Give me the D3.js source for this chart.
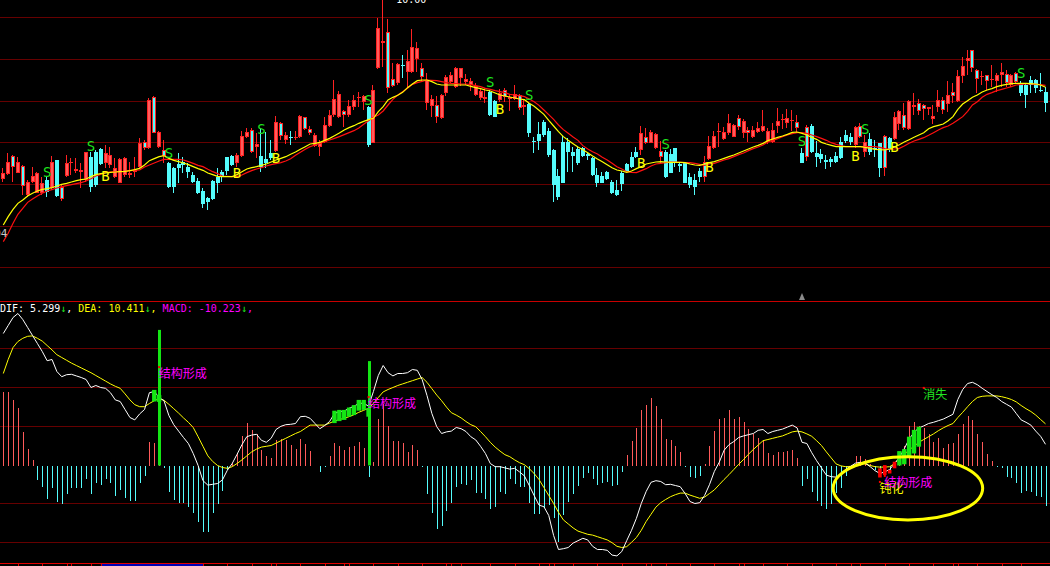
<!DOCTYPE html>
<html><head><meta charset="utf-8">
<script src="https://cdn.jsdelivr.net/npm/d3@7"></script>
<style>html,body{margin:0;padding:0;background:#000;overflow:hidden}svg{display:block}</style>
</head><body><svg id="c" width="1050" height="566"></svg>
<script>
// ---------- price data (one entry per trading day) ----------
const openP = [4.62,4.78,5.00,4.82,4.42,4.15,4.55,4.20,4.22,4.60,
4.35,5.20,4.02,4.72,5.10,4.88,4.85,4.60,5.30,5.45,
5.52,5.10,5.05,4.70,4.52,4.75,4.75,4.85,5.00,5.55,
5.55,6.02,5.60,5.32,5.10,4.95,5.07,5.15,4.98,4.75,
4.57,4.28,4.05,4.58,4.70,4.85,5.28,5.32,5.10,5.32,
5.90,5.45,5.60,5.32,5.22,5.40,5.48,5.92,5.80,5.88,
5.85,5.88,6.12,6.00,5.62,5.60,5.75,6.22,6.55,6.50,
6.55,6.55,6.80,7.05,6.95,6.78,5.72,7.95,8.72,7.35,
7.42,7.50,8.05,7.85,7.85,8.23,7.68,6.90,6.82,6.48,
6.45,7.20,7.55,7.38,7.65,7.55,7.45,7.15,7.05,7.03,
7.25,6.97,7.00,7.10,7.02,7.03,6.75,6.78,6.88,5.77,
5.98,6.35,6.08,5.50,4.72,5.75,5.75,5.45,5.52,5.55,
5.38,5.25,4.75,4.72,4.85,4.55,4.30,4.82,5.08,5.28,
5.45,5.50,5.72,5.72,5.55,5.30,5.45,5.38,5.55,5.07,
5.10,4.70,4.60,4.88,4.70,5.22,5.55,6.05,5.82,6.00,
5.90,6.20,6.02,6.02,5.90,6.05,6.08,5.75,5.75,6.23,
6.40,6.30,6.38,6.17,5.42,5.30,6.22,5.40,5.38,5.20,
5.23,5.32,5.75,5.95,5.88,5.65,5.88,5.45,5.82,5.57,
5.70,4.95,5.85,5.82,6.28,6.15,6.13,6.80,6.68,6.72,
6.72,6.43,6.78,6.70,6.88,7.13,6.98,7.72,8.18,7.95,
7.63,7.70,7.58,7.59,7.58,7.75,7.50,7.45,7.55,7.52,
7.45,7.60,7.60,7.30,7.25];
const highP = [4.95,5.40,5.35,5.30,5.05,4.60,5.00,4.85,4.70,4.70,
5.32,5.20,4.45,5.35,5.25,5.25,5.10,5.45,5.45,5.50,
5.55,5.65,5.60,5.25,5.25,5.30,5.15,5.30,5.85,5.80,
7.05,7.12,6.07,5.80,5.15,5.00,5.40,5.30,5.10,4.85,
4.67,4.35,4.10,4.60,4.95,4.90,5.30,5.35,5.40,6.07,
6.15,6.15,6.00,6.15,6.05,5.80,6.52,6.35,6.05,6.07,
6.07,6.55,6.50,6.22,6.00,5.80,6.48,6.70,7.60,7.27,
6.70,7.00,7.15,7.25,7.15,6.82,7.45,9.45,10.00,9.43,
8.10,8.10,8.35,8.50,9.12,8.75,8.10,7.80,7.15,7.12,
7.17,7.75,7.85,8.00,7.97,7.78,7.65,7.50,7.32,7.35,
7.30,7.00,7.32,7.35,7.17,7.45,7.18,7.00,6.92,5.90,
6.35,6.40,6.15,5.52,4.92,5.92,5.85,5.60,5.60,5.60,
5.40,5.30,4.95,4.85,4.88,4.60,4.60,4.88,5.12,5.45,
5.60,6.22,6.15,6.10,6.00,5.78,5.50,5.52,5.57,5.15,
5.12,4.80,4.78,4.95,5.32,5.92,6.07,6.30,6.20,6.58,
6.28,6.55,6.42,6.20,6.22,6.35,6.70,6.15,6.30,6.75,
6.58,6.72,6.70,6.55,5.55,6.25,6.28,5.78,5.52,5.35,
5.30,5.45,5.88,6.10,6.00,6.22,6.32,5.95,6.00,5.80,
5.72,5.95,5.88,6.65,6.70,6.90,7.00,7.20,7.02,6.88,
6.80,6.85,7.30,7.10,7.57,7.52,7.90,8.28,8.50,8.50,
7.92,7.87,7.75,8.05,7.80,8.10,7.90,7.78,7.85,7.57,
7.48,7.72,7.62,7.82,7.38];
const lowP = [4.55,4.75,4.55,4.80,4.15,4.10,4.50,4.20,4.15,4.10,
4.30,4.10,3.98,4.70,4.75,4.80,4.35,4.55,4.25,4.40,
5.05,4.95,4.95,4.65,4.50,4.70,4.65,4.70,4.95,5.50,
5.52,6.00,5.55,5.10,4.35,4.22,4.50,4.80,4.65,4.50,
4.17,3.75,3.70,4.00,4.22,4.55,4.75,5.02,5.00,5.30,
5.85,5.40,5.25,4.85,4.95,5.20,5.45,5.80,5.68,5.65,
5.80,5.85,6.10,5.95,5.60,5.32,5.72,6.18,6.50,6.45,
6.20,6.50,6.70,6.80,6.70,5.60,5.70,7.92,8.00,7.22,
7.38,7.45,7.65,7.35,7.80,7.85,7.55,6.70,6.50,6.30,
6.42,7.12,7.50,7.35,7.42,7.45,7.28,7.12,7.00,6.90,
6.52,6.48,6.95,6.95,6.68,7.00,6.70,6.55,5.90,5.42,
5.50,5.90,5.30,3.95,4.00,4.50,4.85,4.85,5.05,5.30,
5.20,4.72,4.40,4.50,4.60,4.17,4.12,4.28,4.85,4.95,
5.25,5.35,5.68,5.70,5.52,5.10,4.65,4.80,5.00,4.85,
4.50,4.35,4.15,4.55,4.55,5.20,5.53,5.60,5.80,5.95,
5.88,6.10,5.87,5.75,5.85,6.00,6.05,5.68,5.70,6.00,
6.12,6.15,6.08,6.05,5.10,5.17,5.42,5.00,5.10,4.92,
5.00,5.12,5.22,5.70,5.65,5.55,5.85,5.28,5.35,5.28,
4.70,4.72,5.45,5.80,6.10,6.10,6.10,6.55,6.55,6.40,
6.55,6.28,6.65,6.57,6.65,6.90,6.95,7.52,7.75,7.85,
7.22,7.45,7.30,7.38,7.25,7.40,7.38,7.40,7.48,7.13,
6.77,7.22,7.22,7.25,6.65];
const closeP = [4.80,5.15,5.32,5.15,5.02,4.55,4.72,4.82,4.52,4.25,
5.15,4.12,4.40,5.12,5.13,4.92,4.90,5.45,4.40,4.45,
5.08,5.40,5.35,4.95,5.22,5.25,4.80,4.90,5.72,5.73,
7.00,7.10,6.05,5.50,4.40,4.40,4.95,5.05,4.85,4.55,
4.20,3.88,3.95,4.02,4.52,4.70,4.88,5.05,5.35,5.92,
6.05,6.10,5.67,5.00,5.10,5.25,6.35,6.32,5.95,5.85,
5.90,6.53,6.48,6.12,5.95,5.75,6.25,6.55,7.02,7.17,
6.67,6.82,7.00,7.10,7.12,5.65,7.30,9.15,8.77,9.03,
7.63,8.08,8.03,8.17,8.58,8.55,7.95,7.60,7.03,6.85,
7.15,7.70,7.75,7.95,7.95,7.63,7.57,7.42,7.28,7.10,
6.55,6.50,7.20,7.30,7.08,7.17,7.15,6.85,6.02,5.75,
5.78,5.95,5.35,4.45,4.10,4.52,5.45,5.32,5.10,5.32,
5.32,4.75,4.52,4.52,4.62,4.20,4.15,4.47,4.88,4.98,
5.28,6.00,5.90,6.03,5.98,5.47,4.70,4.82,5.15,5.02,
4.52,4.45,4.38,4.70,5.15,5.62,5.92,6.07,6.05,6.32,
6.25,6.45,6.38,6.10,6.10,6.15,6.22,6.07,6.10,6.37,
6.42,6.47,6.40,6.35,5.12,6.20,5.45,5.30,5.22,5.15,
5.15,5.15,5.25,5.78,5.75,6.18,6.22,5.75,5.45,5.53,
4.95,5.92,5.50,6.50,6.67,6.55,6.97,6.84,6.90,6.84,
6.78,6.53,7.00,7.00,7.15,7.23,7.72,8.02,8.25,8.50,
7.90,7.72,7.75,7.62,7.75,7.85,7.78,7.75,7.80,7.22,
7.15,7.45,7.35,7.28,6.92];
// days drawn with red frame and cyan body
const mixedIdx = [2,4,12,29,31,33,51,57,62,63,70,79,80,86,89,103,106,132,135,144,151,153,163,165,176,181,185,188,189,193,195,199,200,202,206,208];
// moving averages
const maYellow = [3.25,3.50,3.72,3.90,4.00,4.12,4.20,4.27,4.32,4.34,
4.37,4.42,4.47,4.50,4.54,4.58,4.61,4.63,4.70,4.76,
4.79,4.81,4.83,4.84,4.85,4.86,4.88,4.91,4.95,5.05,
5.18,5.24,5.30,5.33,5.25,5.19,5.15,5.11,5.06,5.00,
4.94,4.89,4.81,4.76,4.71,4.70,4.70,4.70,4.76,4.85,
4.93,4.97,5.00,5.04,5.08,5.14,5.20,5.25,5.30,5.37,
5.44,5.52,5.60,5.68,5.70,5.73,5.79,5.85,5.93,6.01,
6.10,6.17,6.23,6.30,6.36,6.41,6.45,6.65,6.80,7.00,
7.08,7.14,7.23,7.37,7.48,7.58,7.60,7.60,7.55,7.48,
7.45,7.45,7.45,7.45,7.45,7.45,7.41,7.37,7.34,7.30,
7.27,7.21,7.15,7.12,7.09,7.06,7.03,7.01,6.90,6.81,
6.69,6.57,6.39,6.22,6.05,5.90,5.79,5.69,5.59,5.51,
5.42,5.32,5.23,5.15,5.06,4.97,4.90,4.87,4.83,4.87,
4.94,5.00,5.08,5.11,5.14,5.15,5.14,5.13,5.13,5.13,
5.12,5.08,5.05,5.04,5.08,5.12,5.15,5.20,5.25,5.30,
5.35,5.41,5.47,5.53,5.59,5.64,5.70,5.78,5.83,5.88,
5.92,5.97,6.03,6.04,6.00,5.95,5.88,5.82,5.73,5.68,
5.64,5.60,5.60,5.60,5.60,5.60,5.60,5.58,5.55,5.52,
5.51,5.50,5.53,5.59,5.66,5.74,5.81,5.88,5.95,6.02,
6.14,6.20,6.24,6.28,6.38,6.50,6.72,6.88,6.98,7.08,
7.15,7.24,7.30,7.34,7.40,7.44,7.47,7.49,7.50,7.50,
7.50,7.49,7.48,7.45,7.38];
const maRed = [2.75,3.00,3.30,3.57,3.75,3.93,4.03,4.12,4.20,4.27,
4.31,4.36,4.40,4.43,4.46,4.49,4.52,4.57,4.64,4.72,
4.77,4.82,4.84,4.85,4.85,4.86,4.88,4.89,4.90,4.99,
5.05,5.11,5.17,5.22,5.22,5.22,5.22,5.20,5.15,5.10,
5.04,5.00,4.92,4.85,4.79,4.72,4.71,4.70,4.71,4.75,
4.82,4.88,4.93,4.97,5.02,5.06,5.09,5.12,5.17,5.24,
5.34,5.43,5.52,5.60,5.65,5.70,5.75,5.80,5.85,5.90,
5.96,6.02,6.08,6.16,6.27,6.38,6.48,6.55,6.67,6.85,
7.02,7.15,7.25,7.35,7.47,7.52,7.56,7.60,7.59,7.58,
7.55,7.52,7.50,7.49,7.48,7.48,7.46,7.43,7.40,7.35,
7.32,7.28,7.25,7.22,7.17,7.15,7.13,7.10,7.03,6.95,
6.84,6.70,6.56,6.42,6.25,6.11,6.00,5.89,5.79,5.63,
5.53,5.45,5.38,5.28,5.20,5.10,5.00,4.93,4.85,4.83,
4.82,4.88,4.94,5.02,5.08,5.10,5.12,5.14,5.14,5.13,
5.12,5.12,5.10,5.07,5.04,5.08,5.10,5.15,5.20,5.24,
5.30,5.36,5.41,5.48,5.54,5.59,5.65,5.74,5.79,5.84,
5.90,5.95,5.99,6.02,6.02,6.00,5.95,5.90,5.85,5.79,
5.72,5.67,5.63,5.60,5.60,5.60,5.60,5.60,5.60,5.60,
5.58,5.54,5.52,5.53,5.55,5.62,5.70,5.77,5.82,5.87,
5.94,6.02,6.10,6.17,6.22,6.30,6.40,6.50,6.66,6.85,
6.95,7.08,7.17,7.22,7.28,7.32,7.36,7.40,7.45,7.47,
7.48,7.48,7.47,7.46,7.44];
// S / B signals: [day index, price level]
const sellSignals = [[9,4.85],[18,5.63],[34,5.41],[53,6.13],[75,7.00],[100,7.55],[108,7.15],[136,5.68],[164,5.78],[177,6.13],[209,7.82]];
const buySignals = [[21,4.72],[48,4.80],[56,5.27],[102,6.73],[131,5.10],[145,5.00],[175,5.33],[183,5.60]];
const priceGrid = [9.48,8.23,6.98,5.73,4.48,3.23,1.98];
const highLabel = "10.00", lowLabel = "3.04";

// ---------- MACD data ----------
const dif = [33.0,35.0,37.0,38.0,36.5,34.5,32.5,30.5,28.5,26.2,
26.5,23.5,22.2,22.7,22.8,22.4,22.0,21.5,19.5,20.0,
19.5,19.3,18.2,16.4,16.0,14.0,12.0,11.4,12.9,14.0,
18.2,18.5,17.0,16.2,12.5,10.2,8.6,7.0,5.5,3.0,
0.0,-3.8,-4.9,-4.7,-4.5,-3.6,-1.2,0.5,2.8,5.2,
7.2,7.6,7.8,6.3,5.8,6.8,9.0,9.8,10.2,10.3,
10.5,12.2,12.3,11.8,10.5,9.2,10.0,11.0,13.0,13.5,
13.6,14.3,14.8,15.5,15.6,14.8,18.5,22.5,25.0,23.2,
22.4,23.0,23.0,23.2,24.0,23.8,21.5,17.5,13.0,9.7,
8.0,8.4,8.6,9.5,9.2,8.5,7.2,6.4,4.8,3.0,
0.5,-0.3,-0.3,-0.6,-0.9,-0.7,-1.6,-2.6,-5.0,-7.5,
-9.9,-10.3,-12.5,-17.5,-21.0,-20.8,-20.5,-19.4,-18.8,-18.2,
-18.6,-20.2,-21.0,-21.0,-21.2,-22.4,-22.6,-21.5,-18.8,-16.2,
-13.2,-9.5,-6.5,-4.2,-3.8,-4.0,-4.8,-4.7,-5.0,-5.3,
-7.0,-9.0,-9.5,-9.3,-7.5,-4.8,-1.5,0.8,3.8,5.2,
6.0,7.0,7.4,7.7,8.0,8.8,9.0,8.0,8.5,8.8,
9.1,9.6,10.1,9.4,5.8,5.5,3.2,1.2,-0.6,-2.4,
-2.8,-2.9,-2.4,-0.9,-0.2,0.6,0.8,0.6,-0.3,-1.3,
-2.0,-1.6,-1.0,0.5,2.0,4.2,6.6,8.3,9.4,9.9,
10.5,10.8,11.2,11.6,12.2,12.8,16.5,19.0,20.5,20.8,
20.2,19.3,18.5,17.7,17.0,16.0,15.3,14.6,13.0,11.4,
10.8,10.1,8.6,7.3,5.299];
const dea = [23.0,26.5,29.5,31.0,31.8,32.3,32.4,31.8,31.1,30.0,
28.9,27.7,27.0,26.3,25.6,25.0,24.4,23.8,23.2,22.5,
21.8,21.1,20.4,19.8,19.3,17.9,16.4,15.2,14.7,14.7,
15.5,16.2,16.7,16.3,15.3,14.2,13.1,11.9,10.8,9.5,
7.2,4.8,2.4,1.0,0.0,-0.5,-0.7,-0.3,0.5,1.4,
2.4,3.4,4.1,4.6,4.8,5.0,5.6,6.2,6.8,7.4,
8.0,8.5,9.3,10.1,10.1,10.1,10.1,10.6,11.1,11.5,
11.8,12.2,12.7,13.3,13.8,14.3,15.5,17.0,18.4,19.0,
19.5,20.0,20.4,20.8,21.2,21.6,22.0,20.8,19.2,17.6,
16.2,14.6,13.2,12.6,11.9,11.0,10.2,9.7,8.5,7.2,
5.8,4.6,3.6,2.7,2.2,1.4,0.7,0.2,-0.8,-2.0,
-3.5,-5.5,-7.5,-9.5,-11.7,-13.6,-14.6,-15.6,-16.4,-16.8,
-17.2,-17.4,-17.8,-18.2,-18.6,-19.3,-20.2,-20.5,-20.3,-19.2,
-18.0,-16.2,-14.0,-12.2,-10.4,-9.3,-8.5,-7.8,-7.3,-6.9,
-6.9,-7.4,-7.8,-8.2,-7.9,-7.0,-6.1,-4.8,-3.5,-2.3,
-1.0,0.3,1.5,2.8,4.0,5.1,6.2,6.5,6.8,7.1,
7.4,7.9,8.4,8.6,8.4,7.9,7.3,6.2,5.0,3.4,
1.9,0.4,-0.1,-0.3,-0.2,0.2,0.5,0.4,0.0,-0.3,
-0.4,-0.4,-0.3,0.5,1.8,2.8,3.9,4.8,5.8,6.5,
7.2,7.9,8.7,9.4,10.0,10.5,12.0,13.3,14.7,16.0,
17.0,17.3,17.4,17.4,17.4,17.2,16.9,16.5,15.9,15.0,
14.2,13.5,12.6,11.5,10.411];
const macd = [18.3,18.5,16.4,14.5,8.3,4.2,1.4,-3.6,-5.3,-8.3,
-5.5,-9.0,-9.7,-7.1,-5.6,-5.5,-5.6,-3.3,-7.2,-4.4,
-4.8,-3.4,-4.4,-7.5,-6.1,-8.0,-8.8,-8.8,-4.3,-2.5,
5.9,5.6,3.0,-0.5,-6.5,-8.6,-9.4,-9.4,-10.3,-11.9,
-14.2,-16.5,-16.5,-11.9,-9.7,-6.3,-1.1,0.6,3.1,7.4,
10.6,8.9,7.8,3.9,2.4,2.0,6.4,6.6,6.4,5.2,
4.2,6.7,5.4,3.7,-0.1,-1.7,-0.3,2.3,5.6,4.8,
3.9,4.6,4.9,5.8,4.5,-2.9,0.8,11.7,15.3,9.9,
6.2,6.2,5.6,3.4,5.2,3.9,-0.3,-7.2,-11.8,-15.9,
-15.0,-11.3,-9.3,-5.4,-4.7,-4.8,-3.6,-6.8,-6.9,-8.4,
-10.9,-10.3,-6.5,-7.2,-3.4,-4.6,-5.3,-5.4,-9.3,-12.2,
-12.2,-10.7,-9.8,-13.2,-19.0,-12.3,-9.0,-7.1,-5.0,-3.2,
-1.8,-3.3,-4.8,-4.3,-4.0,-5.0,-4.8,-1.5,2.7,6.2,
9.5,13.9,15.2,16.8,14.9,11.7,6.7,6.4,4.9,3.5,
-0.3,-2.8,-3.0,-2.5,0.4,4.8,8.7,11.7,12.0,13.9,
11.6,12.1,10.8,9.2,7.8,7.0,6.3,3.1,2.7,3.3,
3.3,3.7,3.9,2.0,-5.0,-3.4,-6.5,-8.8,-10.1,-10.9,
-9.6,-6.9,-5.7,-2.5,-0.3,2.4,2.4,1.6,0.4,-1.1,
-2.0,-1.5,-1.0,0.8,3.0,5.0,9.9,11.0,10.0,9.3,
7.8,6.0,7.0,4.3,5.4,5.6,7.8,10.4,12.3,11.3,
7.9,5.8,2.9,1.2,-0.3,-0.5,-2.8,-3.0,-4.3,-6.9,
-6.3,-6.5,-7.6,-7.8,-10.223];
const macdGrid = [29.3,19.55,9.9,-9.45,-19.2];
// thick sticks: [day index, upper value, lower value]
const greenSticks = [[31,18.9,16.0],[32,17.6,15.9],
[68,13.7,10.6],[69,13.9,11.1],[70,13.9,11.4],[71,14.5,12.2],[72,15.1,12.6],[73,16.4,13.7],[74,16.4,13.9],[75,14.3,12.2],
[184,3.6,0],[185,4.1,0.3],[186,7.2,2.2],[187,8.9,3.0],[188,9.7,4.7]];
const redSticks = [[180,-0.7,-3.0],[181,0.1,-2.4],[182,-1.1,-2.0],[183,0.95,-0.7]];
// signal verticals: [day index, top value]
const markerLines = [[32,33.9],[75,26.1]];
const notes = [
  {t:"结构形成", i:32, v:24.6, c:"#ff00ff"},
  {t:"结构形成", i:75, v:17.1, c:"#ff00ff"},
  {t:"消失", i:189, v:19.4, c:"#22e622"},
  {t:"钝化", i:180, v:-4.1, c:"#ffff00"},
  {t:"结构形成", i:181, v:-2.6, c:"#ff00ff"}
];
// highlighted zone: index span and value span
const highlight = {i0:170.4, i1:201.1, v0:2.2, v1:-13.6};
const axisTickIdx = [3,8,13,14,18,20,41,46,51,55,56,61,66,70,71,76,81,86,91,92,94,100,105,110,112,113,117,122,127,132,133,136,141,146,151,152,156,161,166,171,174,176,181,186,191,195,196,200,205,209];
const scrollSpan = [20,41];

// ---------- scales ----------
const N = openP.length;
const x = d3.scaleLinear().domain([0, 214]).range([3.3, 1045.5]);
const yP = d3.scaleLinear().domain([10, 1]).range([0, 300]);
const yM = d3.scaleLinear().domain([0, 10]).range([465.5, 425.5]);

const svg = d3.select("#c");
svg.append("rect").attr("width",1050).attr("height",566).attr("fill","#000");
const defs = svg.append("defs");
defs.append("clipPath").attr("id","clipTop").append("rect").attr("x",0).attr("y",0).attr("width",1050).attr("height",300);
defs.append("clipPath").attr("id","clipMacd").append("rect").attr("x",0).attr("y",302).attr("width",1050).attr("height",261);

// ---------- top (price) panel ----------
const gTop = svg.append("g").attr("clip-path","url(#clipTop)");
gTop.selectAll("line.pg").data(priceGrid).join("line").attr("class","pg")
  .attr("x1",0).attr("x2",1050)
  .attr("y1",d=>Math.round(yP(d))+0.5).attr("y2",d=>Math.round(yP(d))+0.5)
  .attr("stroke","#660000").attr("stroke-width",1).attr("shape-rendering","crispEdges");

const mixedSet = new Set(mixedIdx);
const candles = gTop.append("g").attr("shape-rendering","crispEdges");
d3.range(N).forEach(i => {
  const o = openP[i], c = closeP[i], h = highP[i], l = lowP[i];
  const up = c >= o;
  const mixed = mixedSet.has(i);
  const frame = (up || mixed) ? "#ff2222" : "#54fcfc";
  const inner = mixed ? "#54fcfc" : (up ? "#ff5c5c" : "#54fcfc");
  const L = Math.round(x(i)) - 2;
  candles.append("rect").attr("x", L+1).attr("width",1)
    .attr("y", Math.round(yP(h))).attr("height", Math.max(1, Math.round(yP(l)) - Math.round(yP(h))))
    .attr("fill", frame);
  const top = Math.round(yP(Math.max(o,c))), bot = Math.round(yP(Math.min(o,c)));
  const bh = Math.max(1, bot - top);
  candles.append("rect").attr("x",L).attr("y",top).attr("width",4).attr("height",bh).attr("fill",frame);
  if (bh > 2) candles.append("rect").attr("x",L+1).attr("y",top+1).attr("width",2).attr("height",bh-2).attr("fill",inner);
});

const linePrice = d3.line().x((d,i)=>x(i)).y(d=>yP(d));
gTop.append("path").attr("d", linePrice(maRed)).attr("fill","none").attr("stroke","#ff1010").attr("stroke-width",1.2);
gTop.append("path").attr("d", linePrice(maYellow)).attr("fill","none").attr("stroke","#ffff00").attr("stroke-width",1.2);

gTop.selectAll("text.s").data(sellSignals).join("text").attr("class","s")
  .attr("x",d=>x(d[0])).attr("y",d=>yP(d[1])+5)
  .attr("text-anchor","middle").attr("font-family","DejaVu Sans Mono, monospace")
  .attr("font-size",14).attr("fill","#1ee61e").text("S");
gTop.selectAll("text.b").data(buySignals).join("text").attr("class","b")
  .attr("x",d=>x(d[0])).attr("y",d=>yP(d[1])+5)
  .attr("text-anchor","middle").attr("font-family","DejaVu Sans Mono, monospace")
  .attr("font-size",14).attr("fill","#ffff00").text("B");

// extreme price labels
const hiIdx = d3.maxIndex(highP), loIdx = d3.minIndex(lowP);
svg.append("text").attr("x", x(hiIdx)+13).attr("y", yP(highP[hiIdx])+2.5)
  .attr("font-family","DejaVu Sans Mono, monospace").attr("font-size",10).attr("fill","#ffffff").text(highLabel);
svg.append("text").attr("x", 7.5).attr("y", 236.5).attr("text-anchor","end")
  .attr("font-family","DejaVu Sans Mono, monospace").attr("font-size",11).attr("fill","#c8c8c8").text(lowLabel);

// panel separator
svg.append("line").attr("x1",0).attr("x2",1050).attr("y1",301.5).attr("y2",301.5)
  .attr("stroke","#c80000").attr("stroke-width",1).attr("shape-rendering","crispEdges");
svg.append("path").attr("d","M799,300L805,300L802,293Z").attr("fill","#8a8a8a");

// ---------- MACD panel ----------
const gM = svg.append("g").attr("clip-path","url(#clipMacd)");
gM.selectAll("line.mg").data(macdGrid).join("line").attr("class","mg")
  .attr("x1",0).attr("x2",1050)
  .attr("y1",d=>Math.round(yM(d))+0.5).attr("y2",d=>Math.round(yM(d))+0.5)
  .attr("stroke","#660000").attr("stroke-width",1).attr("shape-rendering","crispEdges");

gM.append("g").attr("shape-rendering","crispEdges")
  .selectAll("line").data(macd).join("line")
  .attr("x1",(d,i)=>Math.round(x(i))+0.5).attr("x2",(d,i)=>Math.round(x(i))+0.5)
  .attr("y1", yM(0)).attr("y2", d=>yM(d))
  .attr("stroke", d=> d>=0 ? "#ff5a5a" : "#54fcfc").attr("stroke-width",1);

const lineM = d3.line().x((d,i)=>x(i)).y(d=>yM(d));
gM.append("path").attr("d", lineM(dea)).attr("fill","none").attr("stroke","#ffff00").attr("stroke-width",1);
gM.append("path").attr("d", lineM(dif)).attr("fill","none").attr("stroke","#ffffff").attr("stroke-width",1);

gM.selectAll("rect.gs").data(greenSticks).join("rect").attr("class","gs")
  .attr("x",d=>x(d[0])-2.2).attr("width",4.4)
  .attr("y",d=>yM(d[1])).attr("height",d=>yM(d[2])-yM(d[1]))
  .attr("fill","#14e614");
gM.selectAll("rect.rs").data(redSticks).join("rect").attr("class","rs")
  .attr("x",d=>x(d[0])-1.8).attr("width",3.6)
  .attr("y",d=>yM(d[1])).attr("height",d=>yM(d[2])-yM(d[1]))
  .attr("fill","#ff0000");
gM.selectAll("rect.ml").data(markerLines).join("rect").attr("class","ml")
  .attr("x",d=>Math.round(x(d[0]))-1).attr("width",3)
  .attr("y",d=>yM(d[1])).attr("height",d=>yM(0)-yM(d[1]))
  .attr("fill","#14e614");

gM.selectAll("rect.nd").data(notes).join("rect").attr("class","nd")
  .attr("x",d=>x(d.i)-1).attr("y",d=>yM(d.v)-1).attr("width",2).attr("height",2).attr("fill","#ff0000");
gM.selectAll("text.nt").data(notes).join("text").attr("class","nt")
  .attr("x",d=>x(d.i)-0.5).attr("y",d=>yM(d.v)+10.8)
  .attr("font-family","Noto Sans CJK SC, sans-serif").attr("font-size",12)
  .attr("fill",d=>d.c).text(d=>d.t);

gM.append("ellipse")
  .attr("cx",(x(highlight.i0)+x(highlight.i1))/2).attr("cy",(yM(highlight.v0)+yM(highlight.v1))/2)
  .attr("rx",(x(highlight.i1)-x(highlight.i0))/2).attr("ry",(yM(highlight.v1)-yM(highlight.v0))/2)
  .attr("fill","none").attr("stroke","#ffff00").attr("stroke-width",3);

// header
const last = N-1;
const hdr = svg.append("text").attr("x",0).attr("y",312)
  .attr("font-family","DejaVu Sans Mono, monospace").attr("font-size",10).style("white-space","pre");
const parts = [
  ["DIF: "+dif[last].toFixed(3),"#ffffff"],["↓","#22ee22"],[", ","#ffffff"],
  ["DEA: "+dea[last].toFixed(3),"#ffff00"],["↓","#22ee22"],[", ","#ffff00"],
  ["MACD: "+macd[last].toFixed(3),"#ff00ff"],["↓","#22ee22"],[",","#ff00ff"]
];
parts.forEach(p => hdr.append("tspan").attr("fill",p[1]).text(p[0]));

// bottom axis
svg.append("line").attr("x1",0).attr("x2",1050).attr("y1",563.5).attr("y2",563.5)
  .attr("stroke","#e00000").attr("stroke-width",1).attr("shape-rendering","crispEdges");
svg.append("rect").attr("x",x(scrollSpan[0])).attr("y",564).attr("width",x(scrollSpan[1])-x(scrollSpan[0])).attr("height",2).attr("fill","#0000b4");
svg.append("g").attr("shape-rendering","crispEdges").selectAll("line").data(axisTickIdx).join("line")
  .attr("x1",d=>Math.round(x(d))+0.5).attr("x2",d=>Math.round(x(d))+0.5)
  .attr("y1",563).attr("y2",566).attr("stroke","#e00000");
</script>
</body></html>
